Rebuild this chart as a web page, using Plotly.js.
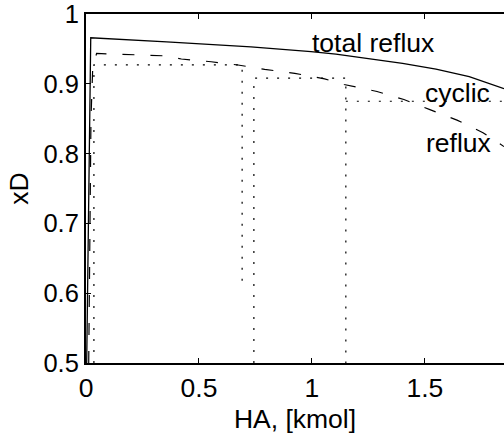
<!DOCTYPE html>
<html>
<head>
<meta charset="utf-8">
<script src="https://cdn.plot.ly/plotly-3.0.1.min.js"></script>
<style>html,body{margin:0;padding:0;background:#fff;overflow:hidden;}</style>
</head>
<body>
<div id="chart" style="width:504px;height:436px;"></div>
<script>
// total reflux (solid)
const totalX = [0.003, 0.021, 0.357, 0.73, 0.996, 1.106, 1.401, 1.549, 1.696, 1.85];
const totalY = [0.5, 0.966, 0.960, 0.953, 0.946, 0.9426, 0.9292, 0.921, 0.9103, 0.893];
// cyclic reflux (dashed)
const cyclicX = [0.012, 0.022, 0.03, 0.047, 0.354, 0.422, 0.554, 0.673, 0.791, 0.924, 1.056, 1.142, 1.288, 1.407, 1.522, 1.642, 1.757, 1.85];
const cyclicY = [0.5, 0.85, 0.925, 0.9435, 0.940, 0.9355, 0.9316, 0.9269, 0.9207, 0.915, 0.907, 0.899, 0.889, 0.8775, 0.863, 0.848, 0.830, 0.810];
// dotted staircase (segments separated by null)
const stepX = [0.035, 0.035, 0.691, 0.691, null, 0.743, 0.743, 1.15, 1.15, null, 1.15, 1.85];
const stepY = [0.5, 0.927, 0.927, 0.615, null, 0.5, 0.908, 0.908, 0.5, null, 0.875, 0.875];
const xTicks = [0, 0.5, 1, 1.5];
const xTickText = ['0', '0.5', '1', '1.5'];
const yTicks = [0.5, 0.6, 0.7, 0.8, 0.9, 1];
const yTickText = ['0.5', '0.6', '0.7', '0.8', '0.9', '1'];
const labels = ['total reflux', 'cyclic', 'reflux'];
const labelX = [0.99, 1.49, 1.495];
const labelY = [0.9585, 0.887, 0.8155];

const FONT = 'Liberation Sans, Arial, Helvetica, sans-serif';
const FS = 26.5;
const TFS = 25.5;
const traces = [
  {x: totalX, y: totalY, mode: 'lines', line: {color: '#000', width: 1.3}, hoverinfo: 'skip'},
  {x: cyclicX, y: cyclicY, mode: 'lines', line: {color: '#000', width: 1.2, dash: '12px,16px'}, hoverinfo: 'skip'},
  {x: stepX, y: stepY, mode: 'lines', connectgaps: false, line: {color: '#000', width: 1.2, dash: '2px,9px'}, hoverinfo: 'skip'}
];
const layout = {
  width: 504, height: 436,
  margin: {l: 86, r: 0, t: 14, b: 73},
  paper_bgcolor: '#fff', plot_bgcolor: '#fff',
  showlegend: false,
  font: {family: FONT, size: FS, color: '#000'},
  xaxis: {
    range: [0, 1.85], tickvals: xTicks, ticktext: xTickText,
    ticks: 'inside', ticklen: 5, tickwidth: 1, tickcolor: '#000',
    showline: true, linecolor: '#000', linewidth: 2, mirror: 'ticks',
    showgrid: false, zeroline: false, ticklabeloverflow: 'allow',
    tickfont: {family: FONT, size: FS, color: '#000'},
    title: {text: 'HA, [kmol]', font: {family: FONT, size: FS, color: '#000'}, standoff: 8}
  },
  yaxis: {
    range: [0.5, 1], tickvals: yTicks, ticktext: yTickText,
    ticks: 'inside', ticklen: 5, tickwidth: 1, tickcolor: '#000',
    showline: true, linecolor: '#000', linewidth: 2, mirror: false,
    showgrid: false, zeroline: false, ticklabeloverflow: 'allow',
    tickfont: {family: FONT, size: TFS, color: '#000'},
    title: {text: 'xD', font: {family: FONT, size: FS, color: '#000'}, standoff: 7}
  },
  annotations: labels.map((t, i) => ({
    text: t, x: labelX[i], y: labelY[i], xref: 'x', yref: 'y',
    xanchor: 'left', yanchor: 'middle', showarrow: false,
    font: {family: FONT, size: FS, color: '#000'}
  }))
};
Plotly.newPlot('chart', traces, layout, {displayModeBar: false, staticPlot: true});
</script>
</body>
</html>
